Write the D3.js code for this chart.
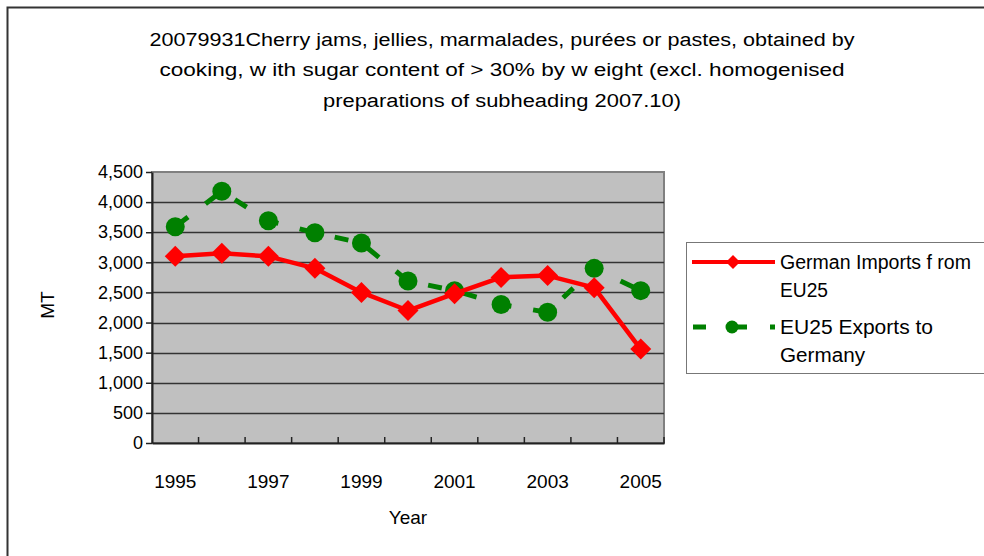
<!DOCTYPE html>
<html>
<head>
<meta charset="utf-8">
<script src="https://cdn.jsdelivr.net/npm/d3@7"></script>
<style>
  body { margin: 0; background: #fff; }
  svg { display: block; font-family: "Liberation Sans", Arial, sans-serif; }
</style>
</head>
<body>
<div id="chart"></div>
<script>
"use strict";

var years = [1995, 1996, 1997, 1998, 1999, 2000, 2001, 2002, 2003, 2004, 2005];
var germanImports = [3100, 3150, 3100, 2900, 2500, 2200, 2480, 2750, 2780, 2580, 1560];
var eu25Exports = [3590, 4180, 3690, 3490, 3320, 2690, 2530, 2300, 2170, 2900, 2530];
var yTicks = [0, 500, 1000, 1500, 2000, 2500, 3000, 3500, 4000, 4500];
var titleLines = [
  "20079931Cherry jams, jellies, marmalades, purées or pastes, obtained by",
  "cooking, w ith sugar content of > 30% by w eight (excl. homogenised",
  "preparations of subheading 2007.10)"
];
var seriesNames = ["German Imports f rom", "EU25", "EU25 Exports to", "Germany"];

var W = 984, H = 556;
var plot = {left: 152, right: 664, top: 172, bottom: 443};

var svg = d3.select("#chart").append("svg")
  .attr("width", W)
  .attr("height", H);

svg.append("rect")
  .attr("width", W).attr("height", H)
  .attr("fill", "#fff");

// outer chart border (runs off the right and bottom edge)
svg.append("rect")
  .attr("x", 7.5).attr("y", 7.5)
  .attr("width", 1000).attr("height", 600)
  .attr("fill", "none")
  .attr("stroke", "#333")
  .attr("stroke-width", 2);

// title
var titleY = [46, 76, 107];
var titleLen = [705, 685, 358];
svg.selectAll("text.title")
  .data(titleLines)
  .enter()
    .append("text")
      .attr("class", "title")
      .attr("x", 502)
      .attr("y", function(d, i) { return titleY[i]; })
      .attr("text-anchor", "middle")
      .attr("font-size", 18)
      .attr("textLength", function(d, i) { return titleLen[i]; })
      .attr("lengthAdjust", "spacingAndGlyphs")
      .attr("fill", "#000")
      .text(function(d) { return d; });

var x = d3.scaleBand().domain(years).range([plot.left, plot.right]);
var y = d3.scaleLinear().domain([0, 4500]).range([plot.bottom, plot.top]);
var cx = function(d, i) { return x(years[i]) + x.bandwidth() / 2; };

// plot background
svg.append("rect")
  .attr("x", plot.left).attr("y", plot.top)
  .attr("width", plot.right - plot.left)
  .attr("height", plot.bottom - plot.top)
  .attr("fill", "#c0c0c0")
  .attr("stroke", "#808080")
  .attr("stroke-width", 2);

// gridlines
svg.selectAll("line.grid")
  .data(yTicks.filter(function(d) { return d > 0 && d < 4500; }))
  .enter()
    .append("line")
      .attr("class", "grid")
      .attr("x1", plot.left).attr("x2", plot.right)
      .attr("y1", function(d) { return Math.round(y(d)) + 0.5; })
      .attr("y2", function(d) { return Math.round(y(d)) + 0.5; })
      .attr("stroke", "#333")
      .attr("stroke-width", 1.5);

// y axis
var yAxis = svg.append("g")
  .attr("transform", "translate(" + plot.left + ",0)")
  .call(d3.axisLeft(y).tickValues(yTicks).tickFormat(d3.format(",")).tickSize(6).tickSizeOuter(0).tickPadding(3));
yAxis.select(".domain").attr("stroke", "#222").attr("stroke-width", 2);
yAxis.selectAll(".tick line").attr("stroke", "#222").attr("stroke-width", 1.5);
yAxis.selectAll(".tick text")
  .attr("font-size", 18)
  .attr("font-family", "Liberation Sans, Arial, sans-serif")
  .attr("fill", "#000");

// x axis
var xAxis = svg.append("g")
  .attr("transform", "translate(0," + plot.bottom + ")")
  .call(d3.axisBottom(x).tickSize(0).tickSizeOuter(0).tickPadding(32)
    .tickFormat(function(d) { return d % 2 === 1 ? d : ""; }));
xAxis.select(".domain").attr("stroke", "#222").attr("stroke-width", 2);
xAxis.selectAll(".tick text")
  .attr("font-size", 19)
  .attr("font-family", "Liberation Sans, Arial, sans-serif")
  .attr("fill", "#000");

svg.selectAll("line.xtick")
  .data(years)
  .enter()
    .append("line")
      .attr("class", "xtick")
      .attr("x1", function(d) { return x(d) + x.bandwidth(); })
      .attr("x2", function(d) { return x(d) + x.bandwidth(); })
      .attr("y1", plot.bottom)
      .attr("y2", plot.bottom - 6)
      .attr("stroke", "#222")
      .attr("stroke-width", 1.5);

// axis titles
svg.append("text")
  .attr("x", 408).attr("y", 524)
  .attr("text-anchor", "middle")
  .attr("font-size", 19)
  .text("Year");

svg.append("text")
  .attr("transform", "translate(54,305) rotate(-90)")
  .attr("text-anchor", "middle")
  .attr("font-size", 19)
  .text("MT");

// EU25 exports: dashed green line with circles
var line = d3.line()
  .x(cx)
  .y(function(d) { return y(d); });

svg.append("path")
  .datum(eu25Exports)
  .attr("d", line)
  .attr("fill", "none")
  .attr("stroke", "#008000")
  .attr("stroke-width", 5)
  .attr("stroke-dasharray", "14,22")
  .attr("stroke-dashoffset", 34);

svg.selectAll("circle.exports")
  .data(eu25Exports)
  .enter()
    .append("circle")
      .attr("class", "exports")
      .attr("cx", cx)
      .attr("cy", function(d) { return y(d); })
      .attr("r", 9.5)
      .attr("fill", "#008000");

// German imports: solid red line with diamonds
svg.append("path")
  .datum(germanImports)
  .attr("d", line)
  .attr("fill", "none")
  .attr("stroke", "#ff0000")
  .attr("stroke-width", 4.5)
  .attr("stroke-linejoin", "round");

var diamond = function(px, py, s) {
  return "M" + px + "," + (py - s) + "L" + (px + s) + "," + py + "L" + px + "," + (py + s) + "L" + (px - s) + "," + py + "Z";
};

svg.selectAll("path.imports")
  .data(germanImports)
  .enter()
    .append("path")
      .attr("class", "imports")
      .attr("d", function(d, i) { return diamond(cx(d, i), y(d), 10.5); })
      .attr("fill", "#ff0000");

// legend
var legend = svg.append("g");
legend.append("rect")
  .attr("x", 686.5).attr("y", 242.5)
  .attr("width", 320).attr("height", 131)
  .attr("fill", "#fff")
  .attr("stroke", "#777")
  .attr("stroke-width", 1);

legend.append("line")
  .attr("x1", 692).attr("x2", 775)
  .attr("y1", 262).attr("y2", 262)
  .attr("stroke", "#ff0000")
  .attr("stroke-width", 4);
legend.append("path")
  .attr("d", diamond(733, 262, 7))
  .attr("fill", "#ff0000");

legend.append("line")
  .attr("x1", 693).attr("x2", 775)
  .attr("y1", 327).attr("y2", 327)
  .attr("stroke", "#008000")
  .attr("stroke-width", 5)
  .attr("stroke-dasharray", "13,27,14,23,13");
legend.append("circle")
  .attr("cx", 732).attr("cy", 327)
  .attr("r", 6.5)
  .attr("fill", "#008000");

var legendY = [269, 297, 334, 362];
var legendLen = [191, 48, 153, 85];
legend.selectAll("text")
  .data(seriesNames)
  .enter()
    .append("text")
      .attr("x", 780)
      .attr("y", function(d, i) { return legendY[i]; })
      .attr("font-size", 20)
      .attr("textLength", function(d, i) { return legendLen[i]; })
      .attr("lengthAdjust", "spacingAndGlyphs")
      .attr("fill", "#000")
      .text(function(d) { return d; });
</script>
</body>
</html>
